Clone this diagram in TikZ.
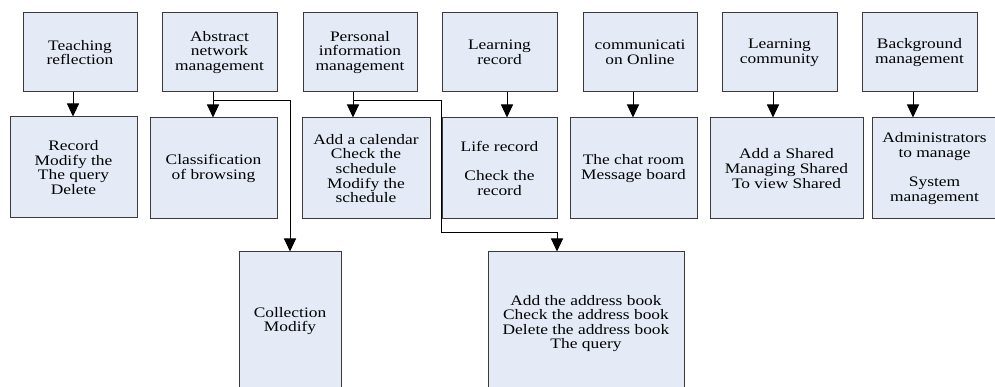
\documentclass[tikz,border=0pt]{standalone}
\usepackage{fontspec}
\setmainfont[FakeStretch=1.2]{Liberation Serif}
\usetikzlibrary{arrows.meta}
\definecolor{boxfill}{HTML}{E4EBF6}
\definecolor{edge}{HTML}{3A3A3A}
\tikzset{
  box/.style={draw=edge, fill=boxfill, line width=1pt, align=center, inner sep=0pt,
              font=\fontsize{14.5}{14.6}\selectfont},
  conn/.style={draw=black, line width=1pt},
  arr/.style={conn, -{Triangle[width=12pt,length=13pt]}},
}
\begin{document}
\begin{tikzpicture}[x=1pt,y=-1pt]
\useasboundingbox (0,0) rectangle (995,387);
\clip (0,0) rectangle (995,387);
% top row
\node[box, minimum width=114, minimum height=79] (t1) at (80,52.5) {Teaching\\reflection};
\node[box, minimum width=115, minimum height=79] (t2) at (219.5,52.5) {Abstract\\network\\management};
\node[box, minimum width=114, minimum height=79] (t3) at (360,52.5) {Personal\\information\\management};
\node[box, minimum width=115, minimum height=79] (t4) at (499.5,52.5) {Learning\\record};
\node[box, minimum width=114, minimum height=79] (t5) at (640,52.5) {communicati\\on Online};
\node[box, minimum width=115, minimum height=79] (t6) at (779.5,52.5) {Learning\\community};
\node[box, minimum width=115, minimum height=79] (t7) at (919.5,52.5) {Background\\management};
% second row
\node[box, minimum width=127, minimum height=101] (b1) at (73.5,167.5) {Record\\Modify the\\The query\\Delete};
\node[box, minimum width=127, minimum height=101] (b2) at (213.5,168.5) {Classification\\of browsing};
\node[box, minimum width=128, minimum height=101] (b3) at (366,168.5) {Add a calendar\\Check the\\schedule\\Modify the\\schedule};
\node[box, minimum width=115, minimum height=101] (b4) at (499.5,168.5) {Life record\\[14.6pt]Check the\\record};
\node[box, minimum width=127, minimum height=101] (b5) at (633.5,168.5) {The chat room\\Message board};
\node[box, minimum width=153, minimum height=101] (b6) at (786.5,168.5) {Add a Shared\\Managing Shared\\To view Shared};
\node[box, minimum width=125, minimum height=101] (b7) at (934.5,168.5) {Administrators\\to manage\\[14.6pt]System\\management};
% third row
\node[box, minimum width=102, minimum height=138] (c1) at (290,321) {Collection\\Modify};
\node[box, minimum width=196, minimum height=143] (c2) at (586,323.5) {Add the address book\\Check the address book\\Delete the address book\\The query};
% arrow columns
\coordinate (x1) at (73,0);
\coordinate (x2) at (213,0);
\coordinate (x3) at (353,0);
\coordinate (x4) at (507,0);
\coordinate (x5) at (633,0);
\coordinate (x6) at (773,0);
\coordinate (x7) at (913,0);
\coordinate (ya) at (0,101);
\coordinate (yb) at (0,233);
\coordinate (xc) at (557,0);
% connectors
\draw[arr] (t1.south -| x1) -- (b1.north -| x1);
\draw[arr] (t2.south -| x2) -- (b2.north -| x2);
\draw[arr] (t3.south -| x3) -- (b3.north -| x3);
\draw[arr] (t4.south -| x4) -- (b4.north -| x4);
\draw[arr] (t5.south -| x5) -- (b5.north -| x5);
\draw[arr] (t6.south -| x6) -- (b6.north -| x6);
\draw[arr] (t7.south -| x7) -- (b7.north -| x7);
\draw[arr] (x2 |- ya) -| (c1.north);
\draw[arr] (x3 |- ya) -- (b4.west |- ya) -- (b4.west |- yb) -- (xc |- yb) -- (c2.north -| xc);
\end{tikzpicture}
\end{document}
